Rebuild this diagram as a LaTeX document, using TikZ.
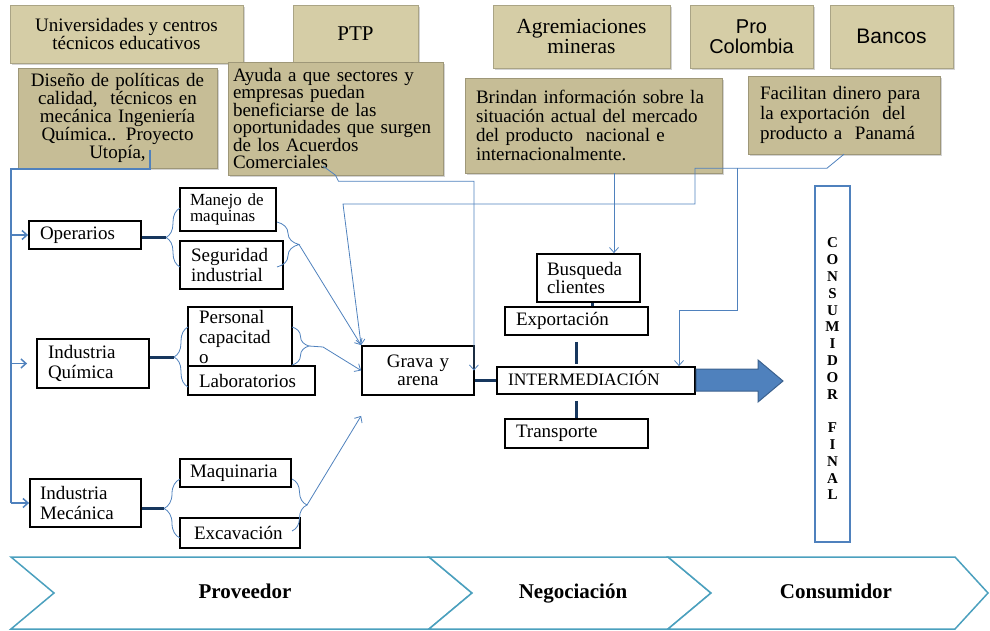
\documentclass[tikz,border=0pt]{standalone}
\usepackage{xcolor}
\usepackage{fontspec}
\setmainfont{Liberation Serif}
\setsansfont{Liberation Sans}
\usepackage{tikz}
\usetikzlibrary{calc}
\usetikzlibrary{arrows.meta}
\usetikzlibrary{shadows}
\usetikzlibrary{decorations.pathreplacing}
\definecolor{tanA}{RGB}{213,205,166}
\definecolor{tanB}{RGB}{198,189,150}
\definecolor{lblue}{RGB}{79,129,189}
\definecolor{navy}{RGB}{23,55,94}
\definecolor{chevblue}{RGB}{75,160,190}
\newcommand{\fsz}[2]{\fontsize{#1}{#2}\selectfont}
\tikzset{>={Straight Barb[length=5pt, width=9pt]}}
\tikzstyle{topbox} = [rectangle, fill=tanA, draw=tanA!80!black, line width=0.4pt, inner sep=0pt, align=center, drop shadow={shadow xshift=2pt, shadow yshift=-2pt, opacity=0.35}]
\tikzstyle{descbox} = [topbox, fill=tanB, draw=tanB!80!black]
\tikzstyle{blk} = [rectangle, draw=black, line width=1.8pt, fill=white, inner sep=0pt, align=left, font=\fsz{19}{20}]
\tikzstyle{lnk} = [draw=lblue, line width=0.8pt]
\tikzstyle{arr} = [lnk, ->]
\tikzstyle{trk} = [draw=lblue, line width=1.5pt]
\tikzstyle{bar} = [draw=navy, line width=3pt]
\tikzstyle{brc} = [lnk, decorate]
\tikzstyle{chev} = [draw=chevblue, line width=1.5pt, fill=white]
\tikzstyle{chevtxt} = [font=\bfseries\fsz{21}{24}, text height=14pt, text depth=4pt]

\begin{document}
\begin{tikzpicture}[x=1pt, y=-1pt]
\useasboundingbox (0,0) rectangle (990,631);

% cadena de valor
\draw [chev] (11,557) -- (429,557) -- (472,593) -- (429,629) -- (11,629) -- (54,593) -- cycle;
\draw [chev] (429,557) -- (668,557) -- (711,593) -- (668,629) -- (429,629) -- (472,593) -- cycle;
\draw [chev] (668,557) -- (955,557) -- (988,593) -- (955,629) -- (668,629) -- (711,593) -- cycle;
\node [chevtxt] (prov) at (245,593) {Proveedor};
\node [chevtxt] (nego) at (573,593) {Negociación};
\node [chevtxt] (consu) at (836,593) {Consumidor};

% actores
\node [topbox, minimum width=233pt, minimum height=58pt, font=\fsz{19}{17}] (univ) at (126.5,34) {Universidades y centros\\técnicos educativos};
\node [topbox, minimum width=125pt, minimum height=58pt, font=\fsz{21}{20}] (ptp) at (355.5,34) {PTP};
\node [topbox, minimum width=177pt, minimum height=63pt, font=\fsz{21.5}{20}] (agrem) at (581.5,36.5) {Agremiaciones\\mineras};
\node [topbox, minimum width=123pt, minimum height=63pt, font=\sffamily\fsz{20}{20}] (proco) at (751.5,36.5) {Pro\\Colombia};
\node [topbox, minimum width=123pt, minimum height=63pt, font=\sffamily\fsz{21}{20}] (banc) at (891.5,36.5) {Bancos};

\node [descbox, minimum width=199pt, minimum height=100pt, text width=195pt, font=\fsz{19}{18}] (univd) at (117.5,118) {Diseño de políticas de\\calidad,\ \ técnicos en\\mecánica Ingeniería\\Química.. Proyecto\\Utopía,};
\node [descbox, minimum width=215pt, minimum height=113pt, text width=205pt, align=left, font=\fsz{19}{17.5}] (ptpd) at (335.5,118.5) {Ayuda a que sectores y\\empresas puedan\\beneficiarse de las\\oportunidades que surgen\\de los Acuerdos\\Comerciales};
\node [descbox, minimum width=257pt, minimum height=95pt, text width=235pt, align=left, font=\fsz{19}{19}] (agremd) at (593.5,125.5) {Brindan información sobre la\\situación actual del mercado\\del producto\ \ nacional e\\internacionalmente.};
\node [descbox, minimum width=192pt, minimum height=78pt, text width=168pt, align=left, font=\fsz{19}{20}] (bancd) at (844,115) {Facilitan dinero para\\la exportación\ \ del\\producto a\ \ Panamá};

% proveedores
\node [blk, minimum width=112pt, minimum height=28pt, text width=90pt] (oper) at (85,235) {Operarios};
\node [blk, minimum width=112pt, minimum height=49pt, text width=90pt] (quim) at (93,363.5) {Industria\\Química};
\node [blk, minimum width=111pt, minimum height=48pt, text width=91pt] (mec) at (85.5,503) {Industria\\Mecánica};
\node [blk, minimum width=96pt, minimum height=43pt, text width=76pt, font=\fsz{17}{16}] (manej) at (228,209.5) {Manejo de\\maquinas};
\node [blk, minimum width=103pt, minimum height=48pt, text width=81pt] (segur) at (231.5,265) {Seguridad\\industrial};
\node [blk, minimum width=104pt, minimum height=60pt, text width=82pt] (pers) at (240,337) {Personal\\capacitad\\o};
\node [blk, minimum width=127pt, minimum height=29pt, text width=105pt] (lab) at (251.5,380.5) {Laboratorios};
\node [blk, minimum width=111pt, minimum height=28pt, text width=91pt] (maq) at (235.5,473) {Maquinaria};
\node [blk, minimum width=120pt, minimum height=30pt, text width=92pt] (excav) at (240,533) {Excavación};

% negociacion
\node [blk, minimum width=112pt, minimum height=49pt, text width=100pt, align=center, font=\fsz{19}{18}] (grava) at (418,370.5) {Grava y\\arena};
\node [blk, minimum width=103pt, minimum height=48pt, text width=83pt, font=\fsz{19}{18}] (busq) at (588.5,278) {Busqueda\\clientes};
\node [blk, minimum width=143pt, minimum height=28pt, text width=121pt] (expo) at (576.5,321) {Exportación};
\node [blk, minimum width=198pt, minimum height=27pt, text width=176pt, font=\fsz{17.5}{18}, text height=14pt, text depth=4pt] (inter) at (596,380.5) {INTERMEDIACIÓN};
\node [blk, minimum width=143pt, minimum height=29pt, text width=121pt] (transp) at (576.5,433.5) {Transporte};

\node [rectangle, draw=lblue, line width=2pt, minimum width=35pt, minimum height=356pt] (consf) at (832.5,364) {};
\node [align=center, inner sep=0pt, font=\bfseries\fsz{15}{16.8}] (consl) at (832.5,369) {C\\O\\N\\S\\U\\M\\I\\D\\O\\R\\[16.8pt]F\\I\\N\\A\\L};

\draw [draw=lblue!75!black, fill=lblue, line width=1pt] (696,369) -- (758,369) -- (758,360) -- (783,381) -- (758,402) -- (758,391) -- (696,391) -- cycle;

% llaves
\coordinate (lt1) at (166,237.5);
\coordinate (lt2) at (174,357);
\coordinate (lt3) at (164,508.5);
\coordinate (rt1) at (299,244.5);
\coordinate (rt2) at (309,346);
\coordinate (rt3) at (307,505);
\draw [brc, decoration={brace, amplitude=14pt}] (180,267) -- (180,208);
\draw [brc, decoration={brace, amplitude=14pt}] (188,387) -- (188,327);
\draw [brc, decoration={brace, amplitude=16pt}] (180,538) -- (180,479);
\draw [brc, decoration={brace, amplitude=22pt}] (277,222) -- (277,267);
\draw [brc, decoration={brace, amplitude=17pt}] (292,327) -- (292,365);
\draw [brc, decoration={brace, amplitude=15pt}] (292,479) -- (292,531);

\draw [bar] (oper.east |- lt1) to (lt1);
\draw [bar] (quim.east |- lt2) to (lt2);
\draw [bar] (mec.east |- lt3) to (lt3);
\draw [bar] ([yshift=-10pt]grava.east) to (inter.west);
\draw [bar] ([xshift=3.5pt]busq.south) to ([xshift=3.5pt]busq.south |- expo.north);
\draw [bar, shorten <=6pt, shorten >=2pt] (expo.south) to (expo.south |- inter.north);
\draw [bar, shorten <=6pt] (expo.south |- inter.south) to (transp.north);

\draw [arr] (rt1) to (grava.north west);
\draw [arr] (rt2) -- ++(14,1) -- (grava.west);
\draw [arr] (rt3) to ([yshift=-20pt]grava.south west);

% apoyo institucional
\coordinate (utop) at (150,150);
\coordinate (trunk) at (11,169);
\coordinate (cptp) at (323,166);
\coordinate (k1) at (695,204);
\coordinate (k2) at (343,204);
\coordinate (k3) at (737,168);
\coordinate (k4) at (679,310);
\draw [trk] (utop) |- (trunk) -- (trunk |- mec.west);
\draw [trk, ->] (trunk |- oper.west) -- (oper.west);
\draw [trk, ->] (trunk |- quim.west) -- ([xshift=-9pt]quim.west);
\draw [trk, ->] (trunk |- mec.west) -- (mec.west);
\draw [arr] (cptp) -- (ptpd.south) -- ++(3,6) -| ([xshift=-1pt]grava.east);
\draw [arr] ([xshift=20.5pt]agremd.south) -- ([xshift=20.5pt]agremd.south |- busq.north);
\draw [arr] (bancd.south) -- ++(-17,14) -| (k1) -- (k2) -- (grava.north west);
\draw [arr] (k3) |- (k4) -- (k4 |- inter.north);
\end{tikzpicture}
\end{document}
